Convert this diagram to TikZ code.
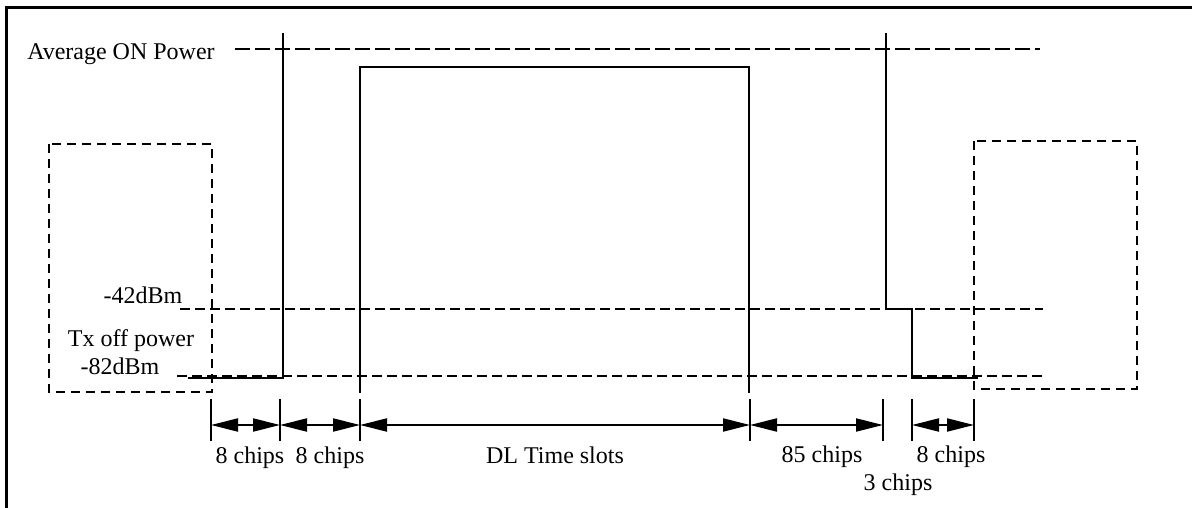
\documentclass[tikz,border=0pt]{standalone}
\usepackage{fontspec}
\setmainfont{Liberation Serif}
\usetikzlibrary{arrows.meta}

\tikzset{
  sig/.style={line width=2.7pt},
  lvl/.style={line width=2pt, dash pattern=on 10pt off 5pt},
  offbox/.style={line width=2pt, dash pattern=on 9pt off 6pt},
  tick/.style={line width=2pt},
  dim/.style={line width=2pt, {Triangle[length=27pt,width=13pt]}-{Triangle[length=27pt,width=13pt]}},
  lbl/.style={font=\fontsize{24}{28}\selectfont, anchor=base, inner sep=0pt}
}

\begin{document}
\begin{tikzpicture}[x=1pt, y=-1pt]
  \useasboundingbox (0,0) rectangle (1192,508);

  % frame
  \draw[line width=3pt] (6,512) -- (6,8) -- (1196,8);

  % levels
  \node[lbl] (avg) at (121,60) {Average ON Power};
  \node[lbl] (m42) at (143,303) {-42dBm};
  \node[lbl] (txoff) at (131,346) {Tx off power};
  \node[lbl] (m82) at (120,374) {-82dBm};
  \draw[lvl, dash pattern=on 15pt off 5pt] (235,49) -- (1040,49);
  \draw[lvl] (180,309) -- (1043,309);
  \draw[lvl] (177,376) -- (1043,376);

  % off periods
  \draw[offbox] (49,144) rectangle (212,392);
  \draw[offbox] (974,141) rectangle (1137,389);

  % signal
  \draw[sig] (188,378) -- (283,378) -- (283,33);
  \draw[sig] (360,393) -- (360,67) -- (749,67) -- (749,393);
  \draw[sig] (886,33) -- (886,309) -- (912,309) -- (912,378) -- (978,378);

  % time marks
  \foreach \n/\x in {1/211, 2/280, 3/360, 4/750, 5/883, 6/912, 7/974} {
    \coordinate (t\n) at (\x,425);
    \draw[tick] (\x,399) -- (\x,441);
  }
  \draw[dim] (t1) -- (t2);
  \draw[dim] (t2) -- (t3);
  \draw[dim] (t3) -- (t4);
  \draw[dim] (t4) -- (t5);
  \draw[dim] (t6) -- (t7);

  \node[lbl] (c1) at (250,463) {8 chips};
  \node[lbl] (c2) at (330,463) {8 chips};
  \node[lbl] (dl) at (555,463) {DL Time slots};
  \node[lbl] (c85) at (822,462) {85 chips};
  \node[lbl] (c8) at (951,462) {8 chips};
  \node[lbl] (c3) at (898,490) {3 chips};
\end{tikzpicture}
\end{document}
